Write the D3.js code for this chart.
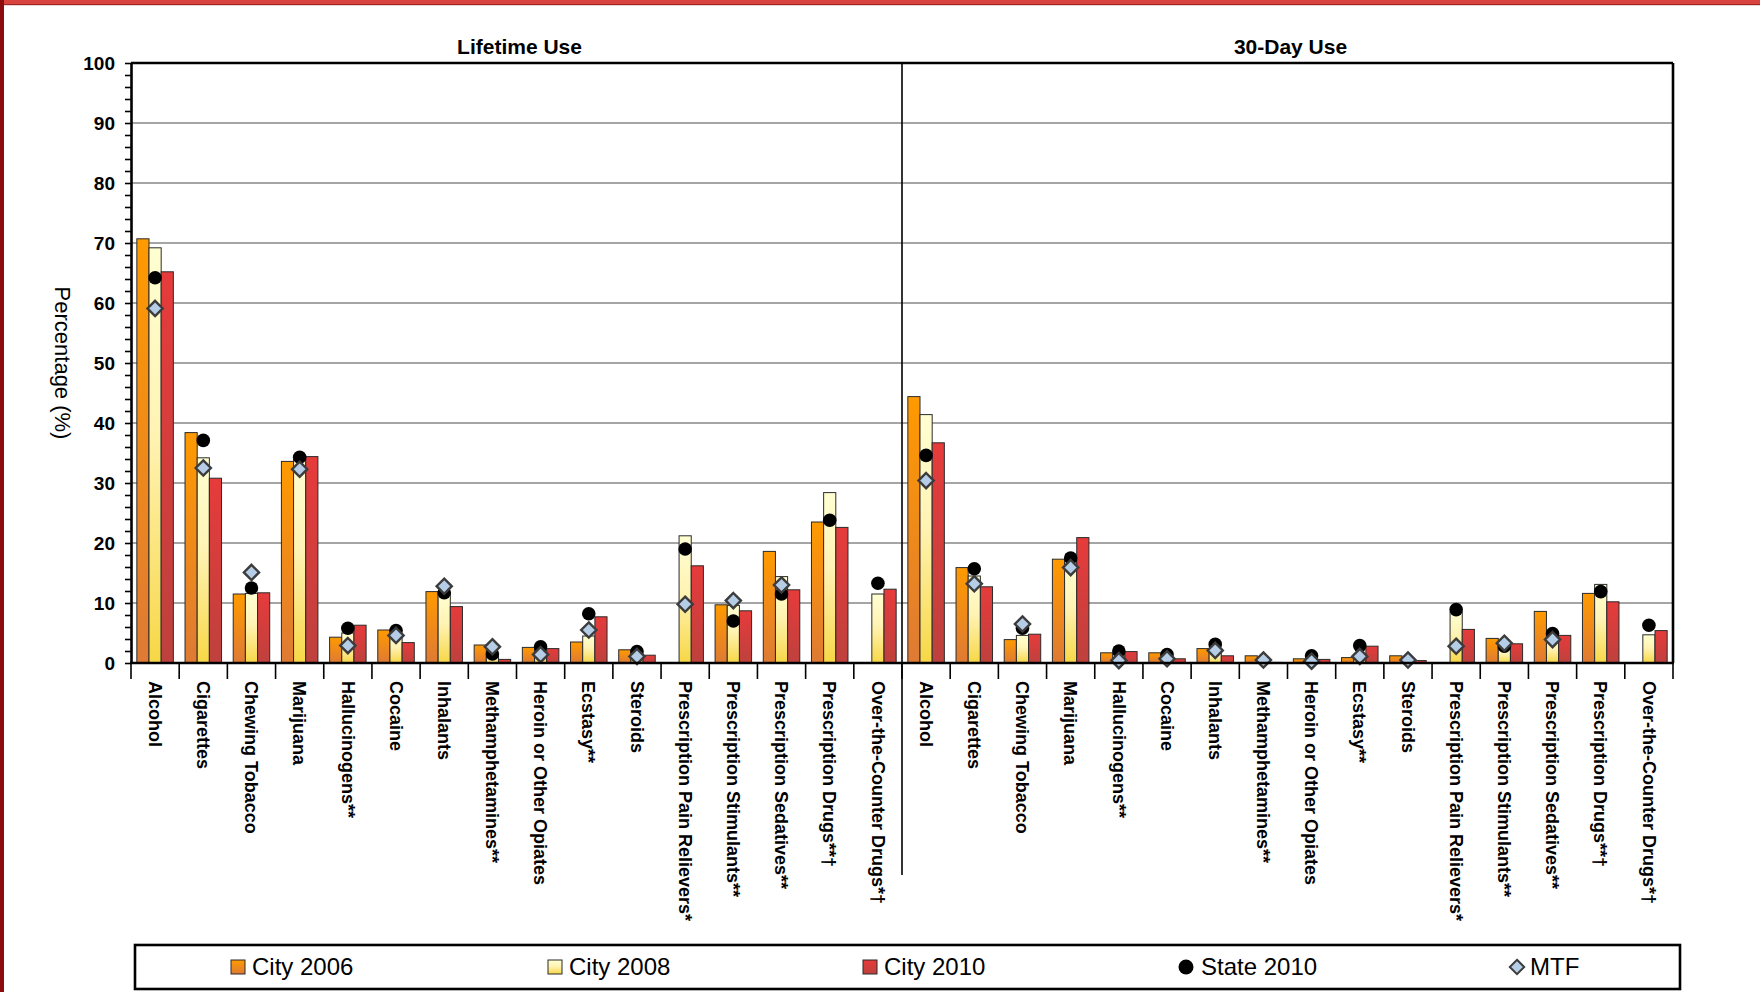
<!DOCTYPE html>
<html><head><meta charset="utf-8">
<script src="https://cdn.jsdelivr.net/npm/d3@7"></script>
<style>
body{margin:0;background:#fff;}
svg{display:block;font-family:"Liberation Sans",Arial,Helvetica,sans-serif;}
</style>
</head><body>
<svg id="chart" width="1760" height="992"></svg>
<script>
// ---------------- DATA ----------------
const categories = ["Alcohol","Cigarettes","Chewing Tobacco","Marijuana","Hallucinogens**","Cocaine","Inhalants",
  "Methamphetamines**","Heroin or Other Opiates","Ecstasy**","Steroids","Prescription Pain Relievers*",
  "Prescription Stimulants**","Prescription Sedatives**","Prescription Drugs**\u2020","Over-the-Counter Drugs*\u2020"];
const panels = ["Lifetime Use","30-Day Use"];
const seriesNames = ["City 2006","City 2008","City 2010","State 2010","MTF"];

const lifetimeCity2006  = [70.7,38.4,11.5,33.6,4.3,5.5,11.9,3.0,2.6,3.5,2.2,null,9.7,18.6,23.5,null];
const lifetimeCity2008  = [69.2,34.2,11.6,33.9,5.0,4.8,11.8,1.2,2.0,4.5,1.5,21.2,9.6,14.4,28.4,11.5];
const lifetimeCity2010  = [65.2,30.8,11.7,34.4,6.3,3.4,9.4,0.6,2.4,7.7,1.3,16.2,8.7,12.2,22.6,12.3];
const lifetimeState2010 = [64.2,37.1,12.5,34.3,5.8,5.4,11.7,1.5,2.7,8.2,1.9,19.0,7.0,11.5,23.8,13.3];
const lifetimeMTF       = [59.1,32.5,15.1,32.3,2.9,4.6,12.8,2.7,1.4,5.5,1.1,9.8,10.4,13.0,null,null];

const day30City2006  = [44.4,15.9,3.9,17.3,1.7,1.7,2.4,1.2,0.7,0.9,1.2,null,4.1,8.6,11.6,null];
const day30City2008  = [41.4,14.5,4.6,17.0,1.5,1.0,2.0,0.3,0.5,1.0,0.5,8.5,2.7,4.3,13.1,4.7];
const day30City2010  = [36.7,12.7,4.8,20.9,1.9,0.7,1.2,0.1,0.6,2.8,0.4,5.6,3.2,4.6,10.2,5.4];
const day30State2010 = [34.6,15.7,5.8,17.5,2.0,1.4,3.1,null,1.2,2.9,null,8.9,2.8,4.9,11.9,6.3];
const day30MTF       = [30.4,13.2,6.5,15.9,0.4,0.7,2.1,0.5,0.3,1.1,0.5,2.8,3.3,3.9,null,null];

const yTickValues = [0,10,20,30,40,50,60,70,80,90,100];

// ---------------- LAYOUT ----------------
const W = 1760, H = 992;
const plot = {left:131, right:1673, top:63, bottom:663};
const svg = d3.select("#chart");

const bars = [
  {name:seriesNames[0], id:"g2006", vals:[lifetimeCity2006, day30City2006]},
  {name:seriesNames[1], id:"g2008", vals:[lifetimeCity2008, day30City2008]},
  {name:seriesNames[2], id:"g2010", vals:[lifetimeCity2010, day30City2010]}
];
const stateVals = [lifetimeState2010, day30State2010];
const mtfVals = [lifetimeMTF, day30MTF];

const keys = [];
panels.forEach((p,pi)=>categories.forEach((c,ci)=>keys.push(pi+"-"+ci)));

const x = d3.scaleBand().domain(keys).range([plot.left, plot.right]).paddingInner(0).paddingOuter(0);
const xi = d3.scaleBand().domain([0,1,2]).range([0, x.bandwidth()]).paddingInner(0).paddingOuter(0.48);
const y = d3.scaleLinear().domain([0,100]).range([plot.bottom, plot.top]);

// gradients
const defs = svg.append("defs");
const gradSpecs = [
  {id:"g2006", stops:[["0%","#FF9A00"],["100%","#DE7A34"]]},
  {id:"g2008", stops:[["0%","#FFFFD2"],["45%","#FFF3B4"],["100%","#F7D746"]]},
  {id:"g2010", stops:[["0%","#E63B3B"],["100%","#BE413D"]]}
];
gradSpecs.forEach(g=>{
  const lg = defs.append("linearGradient").attr("id",g.id).attr("x1",0).attr("y1",0).attr("x2",0).attr("y2",1);
  g.stops.forEach(s=>lg.append("stop").attr("offset",s[0]).attr("stop-color",s[1]));
});

// background + frame
svg.append("rect").attr("width",W).attr("height",H).attr("fill","#fff");
svg.append("rect").attr("x",0).attr("y",0).attr("width",W).attr("height",4).attr("fill","#D9433D");
svg.append("rect").attr("x",0).attr("y",4).attr("width",W).attr("height",1.2).attr("fill","#9E2424");
svg.append("rect").attr("x",0).attr("y",0).attr("width",4).attr("height",H).attr("fill","#8A0C0C");

// gridlines
svg.append("g").selectAll("line").data(yTickValues.filter(v=>v>0 && v<100)).join("line")
  .attr("x1",plot.left).attr("x2",plot.right)
  .attr("y1",d=>y(d)).attr("y2",d=>y(d))
  .attr("stroke","#4d4d4d").attr("stroke-width",1.2);

// bars
const barG = svg.append("g");
bars.forEach((s,si)=>{
  const data = [];
  panels.forEach((p,pi)=>categories.forEach((c,ci)=>{
    const v = s.vals[pi][ci];
    if(v!=null) data.push({key:pi+"-"+ci, v});
  }));
  barG.append("g").selectAll("rect").data(data).join("rect")
    .attr("x",d=>x(d.key)+xi(si))
    .attr("width",xi.bandwidth())
    .attr("y",d=>y(d.v))
    .attr("height",d=>y(0)-y(d.v))
    .attr("fill","url(#"+s.id+")")
    .attr("stroke","#2b2b2b").attr("stroke-width",1);
});

// frame lines: top, right
svg.append("line").attr("x1",plot.left).attr("x2",plot.right).attr("y1",y(100)).attr("y2",y(100))
  .attr("stroke","#000").attr("stroke-width",2.6);
svg.append("line").attr("x1",plot.right).attr("x2",plot.right).attr("y1",y(100)).attr("y2",y(0))
  .attr("stroke","#000").attr("stroke-width",2.6);

// panel divider
const divX = x(keys[categories.length]);
svg.append("line").attr("x1",divX).attr("x2",divX).attr("y1",y(100)).attr("y2",875)
  .attr("stroke","#000").attr("stroke-width",1.6);

// markers
const diamond = h => `M0,${-h}L${h},0L0,${h}L${-h},0Z`;
const stateData = [], mtfData = [];
panels.forEach((p,pi)=>categories.forEach((c,ci)=>{
  if(stateVals[pi][ci]!=null) stateData.push({key:pi+"-"+ci, v:stateVals[pi][ci]});
  if(mtfVals[pi][ci]!=null) mtfData.push({key:pi+"-"+ci, v:mtfVals[pi][ci]});
}));
const cx = k => x(k) + x.bandwidth()/2;
svg.append("g").selectAll("circle").data(stateData).join("circle")
  .attr("cx",d=>cx(d.key)).attr("cy",d=>y(d.v)).attr("r",6.8).attr("fill","#000");
svg.append("g").selectAll("path").data(mtfData).join("path")
  .attr("transform",d=>`translate(${cx(d.key)},${y(d.v)})`)
  .attr("d",diamond(7.6))
  .attr("fill","#B5CDE6").attr("stroke","#3c3c3c").attr("stroke-width",2.4);

// y axis
const yAxis = d3.axisLeft(y).tickValues(d3.range(0,101,2)).tickSize(6).tickSizeOuter(0).tickPadding(10)
  .tickFormat(d=> d%10===0 ? d : "");
const ya = svg.append("g").attr("transform",`translate(${plot.left},0)`).call(yAxis);
ya.select(".domain").attr("stroke","#000").attr("stroke-width",2.6);
ya.selectAll(".tick line").attr("stroke","#000").attr("stroke-width",1.6);
ya.selectAll(".tick text").attr("font-size",19).attr("font-weight","bold").attr("fill","#000")
  .attr("font-family","Liberation Sans, Arial, sans-serif");

// x axis baseline
svg.append("line").attr("x1",plot.left-1).attr("x2",plot.right+1).attr("y1",y(0)).attr("y2",y(0))
  .attr("stroke","#000").attr("stroke-width",2.6);
// category boundary ticks
const bounds = keys.map(k=>x(k)).concat([plot.right]);
svg.append("g").selectAll("line").data(bounds).join("line")
  .attr("x1",d=>d).attr("x2",d=>d).attr("y1",y(0)).attr("y2",y(0)+16)
  .attr("stroke","#000").attr("stroke-width",1.6);

// category labels
const labelData = [];
panels.forEach((p,pi)=>categories.forEach((c,ci)=>labelData.push({key:pi+"-"+ci, text:c})));
svg.append("g").selectAll("text").data(labelData).join("text")
  .attr("transform",d=>`translate(${cx(d.key)},${y(0)+18}) rotate(90)`)
  .attr("dy","0.35em")
  .attr("text-anchor","start")
  .attr("font-size",18).attr("font-weight","bold").attr("fill","#000")
  .text(d=>d.text);

// panel titles
const panelCenters = panels.map((p,pi)=>{
  const a = x(pi+"-0"), b = x(pi+"-"+(categories.length-1)) + x.bandwidth();
  return (a+b)/2 + 3;
});
svg.append("g").selectAll("text").data(panels).join("text")
  .attr("x",(d,i)=>panelCenters[i]).attr("y",54)
  .attr("text-anchor","middle").attr("font-size",21).attr("font-weight","bold").attr("fill","#000")
  .text(d=>d);

// y label
svg.append("text").attr("transform",`translate(55,${(plot.top+plot.bottom)/2}) rotate(90)`)
  .attr("text-anchor","middle").attr("font-size",22).attr("fill","#000")
  .text("Percentage (%)");

// legend
svg.append("rect").attr("x",135).attr("y",945).attr("width",1545).attr("height",44)
  .attr("fill","#fff").attr("stroke","#000").attr("stroke-width",2.6);
const legendX = [231, 548, 863, 1178, 1509];
const lg = svg.append("g");
seriesNames.forEach((n,i)=>{
  const lx = legendX[i];
  if(i<3){
    lg.append("rect").attr("x",lx).attr("y",960).attr("width",14).attr("height",14)
      .attr("fill","url(#"+bars[i].id+")").attr("stroke","#2b2b2b").attr("stroke-width",1);
    lg.append("text").attr("x",lx+21).attr("y",975).attr("font-size",24).attr("fill","#000").text(n);
  } else if(i===3){
    lg.append("circle").attr("cx",lx+8).attr("cy",967).attr("r",7.5).attr("fill","#000");
    lg.append("text").attr("x",lx+23).attr("y",975).attr("font-size",24).attr("fill","#000").text(n);
  } else {
    lg.append("path").attr("transform",`translate(${lx+8},967)`).attr("d",diamond(7.2))
      .attr("fill","#B5CDE6").attr("stroke","#3c3c3c").attr("stroke-width",2);
    lg.append("text").attr("x",lx+21).attr("y",975).attr("font-size",24).attr("fill","#000").text(n);
  }
});
</script>
</body></html>
